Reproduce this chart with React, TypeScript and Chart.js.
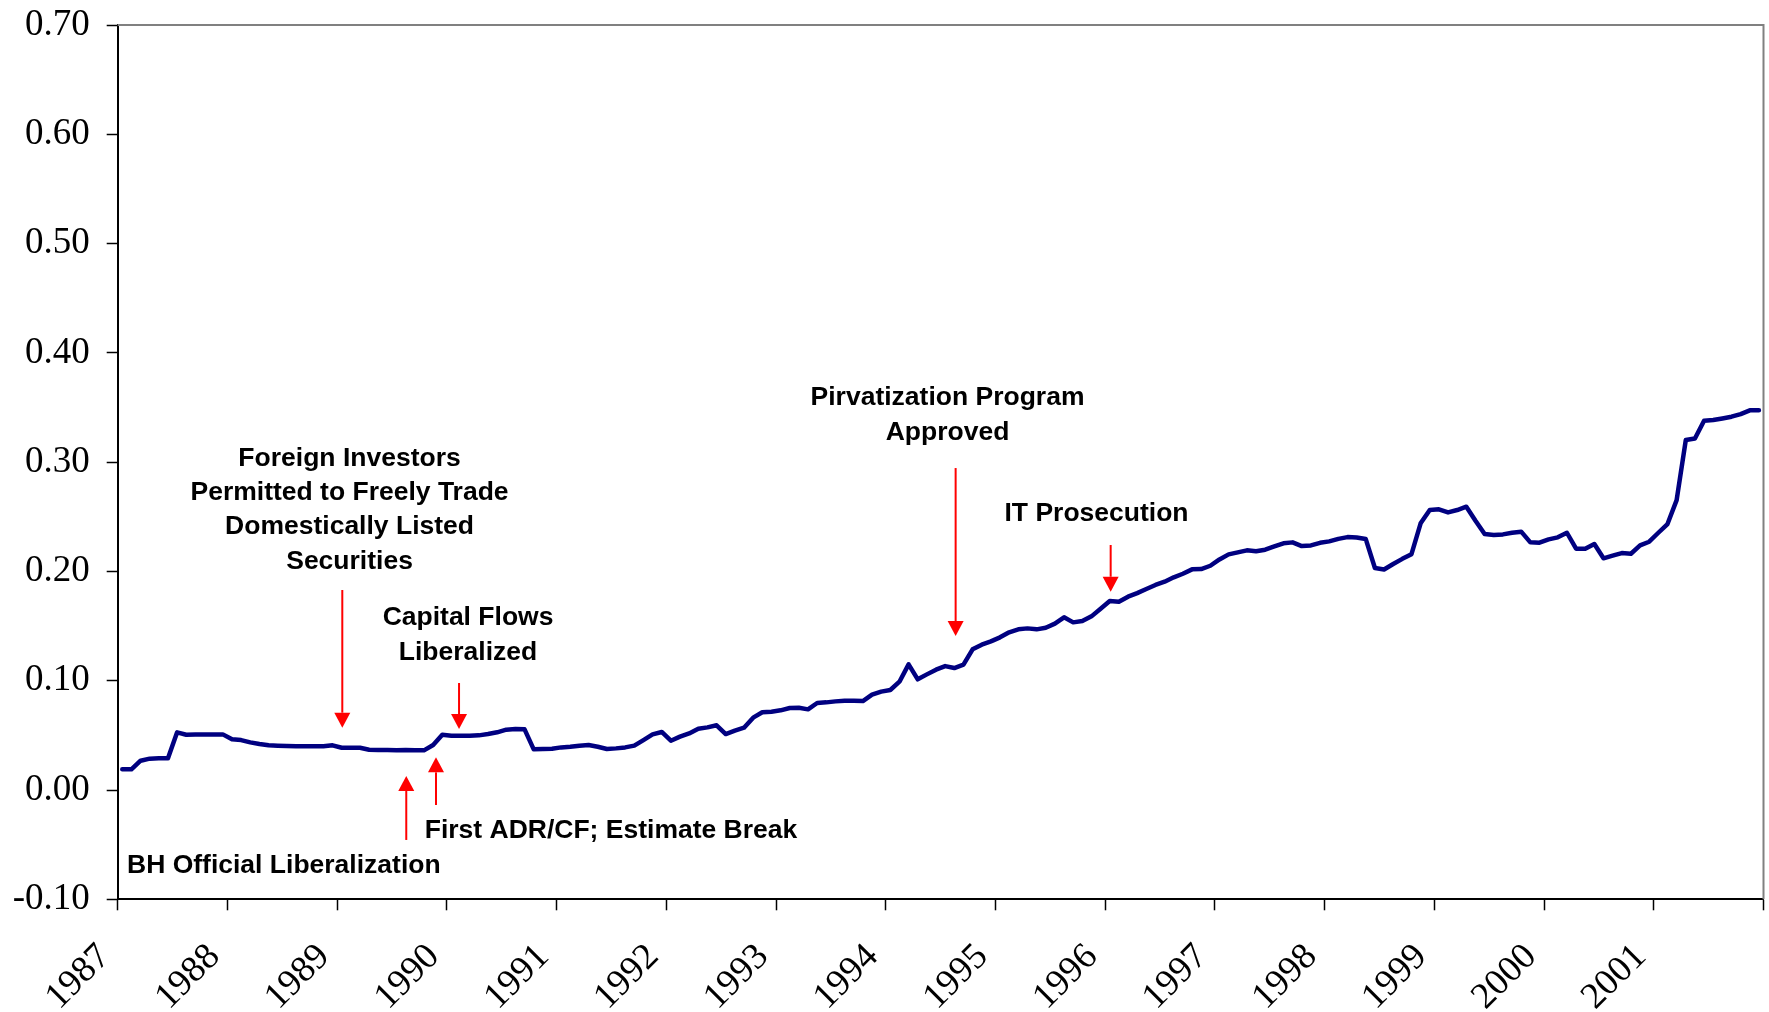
import React, { useEffect, useRef } from "react";
import { Chart, registerables } from "chart.js";

Chart.register(...registerables);

// ---- Data ----
const firstYear = 1987;
const lastYear = 2002;

const yearLabels = [
  "1987", "1988", "1989", "1990", "1991", "1992", "1993", "1994",
  "1995", "1996", "1997", "1998", "1999", "2000", "2001",
];

const yTickLabels = ["-0.10", "0.00", "0.10", "0.20", "0.30", "0.40", "0.50", "0.60", "0.70"];

// Monthly values, Jan 1987 - Dec 2001
const monthlyValues = [
  // 1987
  0.0189, 0.0189, 0.0268, 0.0287, 0.029, 0.029, 0.0528, 0.0506, 0.0509, 0.0509, 0.0509, 0.0509,
  // 1988
  0.0464, 0.0457, 0.0436, 0.0421, 0.0409, 0.0406, 0.0403, 0.04, 0.04, 0.04, 0.04, 0.0409,
  // 1989
  0.0387, 0.0387, 0.0387, 0.0369, 0.0366, 0.0366, 0.0363, 0.0366, 0.0363, 0.0363, 0.0412, 0.0506,
  // 1990
  0.0497, 0.0497, 0.0497, 0.05, 0.0512, 0.0528, 0.0552, 0.0558, 0.0555, 0.0372, 0.0375, 0.0378,
  // 1991
  0.039, 0.0396, 0.0406, 0.0412, 0.0396, 0.0375, 0.0381, 0.039, 0.0406, 0.0457, 0.0509, 0.0531,
  // 1992
  0.0451, 0.0488, 0.0518, 0.0561, 0.0573, 0.0592, 0.0512, 0.0543, 0.057, 0.0662, 0.0711, 0.0717,
  // 1993
  0.0729, 0.075, 0.0753, 0.0738, 0.0796, 0.0802, 0.0811, 0.0817, 0.0817, 0.0814, 0.0872, 0.09,
  // 1994
  0.0915, 0.0991, 0.115, 0.1013, 0.1058, 0.1101, 0.1134, 0.1116, 0.1147, 0.1287, 0.133, 0.136,
  // 1995
  0.1397, 0.1443, 0.147, 0.1479, 0.147, 0.1485, 0.1522, 0.158, 0.1534, 0.1546, 0.1589, 0.1659,
  // 1996
  0.1729, 0.1723, 0.1769, 0.1802, 0.1839, 0.1876, 0.1906, 0.1946, 0.1979, 0.2019, 0.2022, 0.2052,
  // 1997
  0.211, 0.2156, 0.2174, 0.2193, 0.2184, 0.2199, 0.2229, 0.2257, 0.2266, 0.2232, 0.2238, 0.2262,
  // 1998
  0.2275, 0.2298, 0.2314, 0.231, 0.2296, 0.2031, 0.2018, 0.2068, 0.2115, 0.2158, 0.244, 0.2562,
  // 1999
  0.2568, 0.254, 0.2562, 0.2592, 0.2464, 0.2342, 0.2333, 0.2339, 0.2354, 0.2364, 0.2266, 0.2263,
  // 2000
  0.2293, 0.2312, 0.2354, 0.2208, 0.2208, 0.2251, 0.212, 0.2144, 0.2168, 0.2162, 0.2238, 0.2272,
  // 2001
  0.2354, 0.2434, 0.2653, 0.3202, 0.3217, 0.3379, 0.3385, 0.34, 0.3416, 0.344, 0.3474, 0.3474,
];

// Annotation texts (anchored in data units: year, value)
const notes = [
  { x: 1989.113, y: 0.3035, lines: ["Foreign Investors", "Permitted to Freely Trade", "Domestically Listed", "Securities"] },
  { x: 1990.193, y: 0.1574, lines: ["Capital Flows", "Liberalized"] },
  { x: 1988.514, y: -0.0695, lines: ["BH Official Liberalization"] },
  { x: 1991.496, y: -0.0371, lines: ["First ADR/CF; Estimate Break"] },
  { x: 1994.563, y: 0.3587, lines: ["Pirvatization Program", "Approved"] },
  { x: 1995.921, y: 0.2528, lines: ["IT Prosecution"] },
];

// Arrows: x (year), from value -> to value (tip)
const arrows = [
  { x: 1989.047, from: 0.183, to: 0.057 },
  { x: 1990.111, from: 0.0979, to: 0.0558 },
  { x: 1989.63, from: -0.0457, to: 0.0128 },
  { x: 1989.901, from: -0.0137, to: 0.0299 },
  { x: 1994.637, from: 0.2946, to: 0.1409 },
  { x: 1996.05, from: 0.2242, to: 0.1814 },
];

const points = monthlyValues.map((v, i) => ({ x: firstYear + (i + 0.5) / 12, y: v }));

const framePlugin = {
  id: "frame",
  beforeDatasetsDraw(chart: any) {
    const { ctx, chartArea } = chart;
    ctx.save();
    ctx.strokeStyle = "#808080";
    ctx.lineWidth = 2;
    ctx.beginPath();
    ctx.moveTo(chartArea.left, chartArea.top);
    ctx.lineTo(chartArea.right, chartArea.top);
    ctx.lineTo(chartArea.right, chartArea.bottom);
    ctx.stroke();
    ctx.restore();
  },
};

const annotationPlugin = {
  id: "notes",
  afterDatasetsDraw(chart: any) {
    const { ctx } = chart;
    const xs = chart.scales.x;
    const ys = chart.scales.y;
    ctx.save();
    ctx.strokeStyle = "#FF0000";
    ctx.fillStyle = "#FF0000";
    ctx.lineWidth = 2;
    const headLen = 15;
    const headHalf = 8;
    for (const a of arrows) {
      const px = xs.getPixelForValue(a.x);
      const p1 = ys.getPixelForValue(a.from);
      const p2 = ys.getPixelForValue(a.to);
      const dir = Math.sign(p2 - p1);
      ctx.beginPath();
      ctx.moveTo(px, p1);
      ctx.lineTo(px, p2 - dir * headLen);
      ctx.stroke();
      ctx.beginPath();
      ctx.moveTo(px, p2);
      ctx.lineTo(px - headHalf, p2 - dir * headLen);
      ctx.lineTo(px + headHalf, p2 - dir * headLen);
      ctx.closePath();
      ctx.fill();
    }
    ctx.fillStyle = "#000000";
    ctx.font = 'bold 26.5px "Liberation Sans", Arial, sans-serif';
    ctx.textAlign = "center";
    ctx.textBaseline = "middle";
    const step = 34.3;
    for (const n of notes) {
      const px = xs.getPixelForValue(n.x);
      const py = ys.getPixelForValue(n.y);
      n.lines.forEach((line, k) => ctx.fillText(line, px, py + k * step));
    }
    ctx.restore();
  },
};

function zeroPadding(s: any) {
  s.paddingLeft = 0;
  s.paddingRight = 0;
  s.paddingTop = 0;
  s.paddingBottom = 0;
}

export default function App() {
  const canvasRef = useRef<HTMLCanvasElement | null>(null);

  useEffect(() => {
    if (!canvasRef.current) return;
    const serif = '"Liberation Serif", "Times New Roman", serif';
    const chart = new Chart(canvasRef.current, {
      type: "line",
      data: {
        datasets: [
          {
            data: points,
            borderColor: "#000080",
            borderWidth: 4.5,
            pointRadius: 0,
            tension: 0,
            fill: false,
            borderJoinStyle: "round",
            borderCapStyle: "round",
          },
        ],
      },
      options: {
        animation: false,
        responsive: false,
        devicePixelRatio: 1,
        layout: { padding: { top: 25, right: 5.5, left: 0, bottom: 0 } },
        plugins: {
          legend: { display: false },
          tooltip: { enabled: false },
        },
        scales: {
          x: {
            type: "linear",
            min: firstYear,
            max: lastYear,
            afterFit: (s: any) => {
              s.height = 112.7;
              zeroPadding(s);
            },
            ticks: {
              stepSize: 1,
              autoSkip: false,
              minRotation: 45,
              maxRotation: 45,
              padding: 12,
              color: "#000",
              font: { family: serif, size: 37 },
              callback: (v: any) => {
                const idx = Math.round(Number(v)) - firstYear;
                const lbl = yearLabels[idx];
                return lbl ? lbl + "  " : "";
              },
            },
            grid: {
              drawOnChartArea: false,
              drawTicks: true,
              tickLength: 11,
              tickColor: "#000",
              tickWidth: 1.5,
            },
            border: { display: true, color: "#000", width: 2 },
          },
          y: {
            type: "linear",
            min: -0.1,
            max: 0.7,
            afterFit: (s: any) => {
              s.width = 117.7;
              zeroPadding(s);
            },
            ticks: {
              stepSize: 0.1,
              padding: 17,
              color: "#000",
              font: { family: serif, size: 37 },
              callback: (_v: any, i: number) => yTickLabels[i] ?? "",
            },
            grid: {
              drawOnChartArea: false,
              drawTicks: true,
              tickLength: 11,
              tickColor: "#000",
              tickWidth: 1.5,
            },
            border: { display: true, color: "#000", width: 2 },
          },
        },
      },
      plugins: [framePlugin, annotationPlugin],
    } as any);
    return () => chart.destroy();
  }, []);

  return (
    <div style={{ position: "absolute", left: 0, top: 0, width: 1769, height: 1012, background: "#fff" }}>
      <canvas ref={canvasRef} width={1769} height={1012} style={{ display: "block" }} />
    </div>
  );
}
